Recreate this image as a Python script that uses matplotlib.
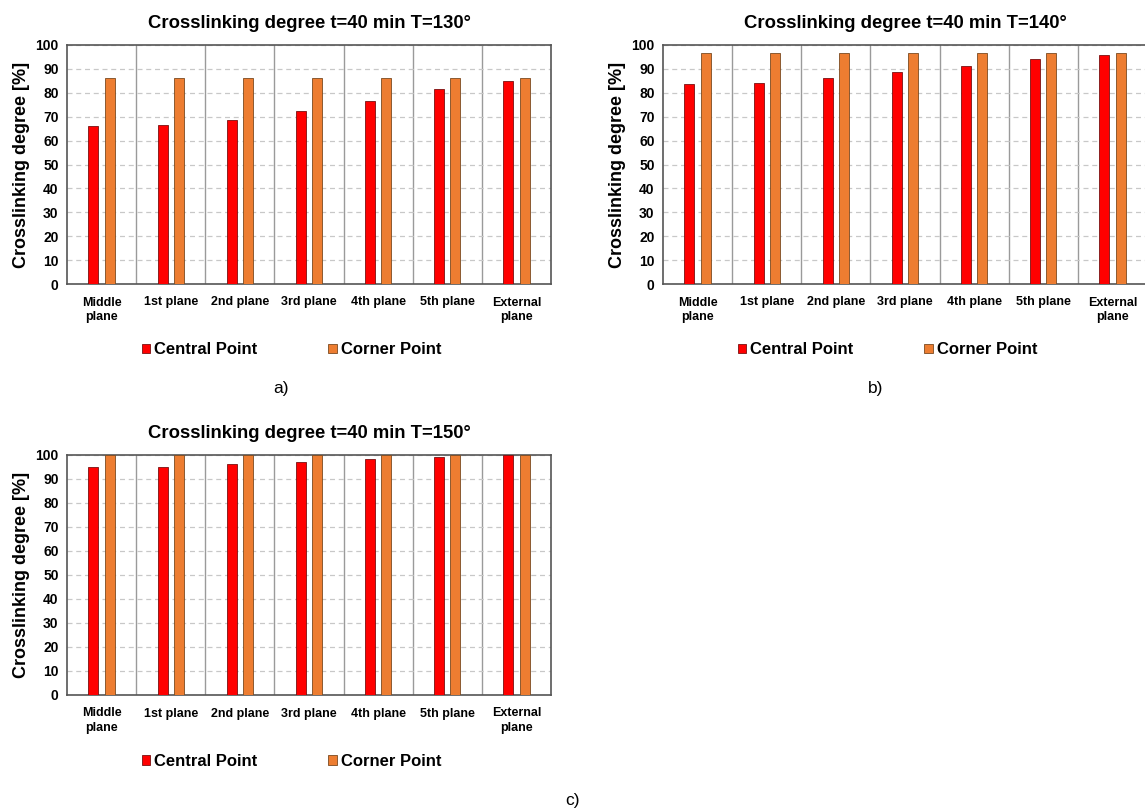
"""Crosslinking degree per plane, three cure temperatures."""

import matplotlib

matplotlib.use("Agg")
from matplotlib import pyplot as plt
from matplotlib.patches import Patch
import numpy as np

plt.rcParams["font.family"] = ["Liberation Sans", "DejaVu Sans"]

planes = [
    "Middle\nplane",
    "1st plane",
    "2nd plane",
    "3rd plane",
    "4th plane",
    "5th plane",
    "External\nplane",
]
temps = ["130°", "140°", "150°"]
central_130 = [66.0, 66.5, 68.7, 72.2, 76.7, 81.5, 84.8]
corner_130 = [86.0, 86.0, 86.0, 86.0, 86.0, 86.3, 86.3]
central_140 = [83.5, 84.0, 86.0, 88.8, 91.3, 94.2, 95.8]
corner_140 = [96.8, 96.8, 96.8, 96.8, 96.8, 96.8, 96.8]
central_150 = [95.0, 95.2, 96.1, 97.2, 98.3, 99.3, 99.8]
corner_150 = [100.0, 100.0, 100.0, 100.0, 100.0, 100.0, 100.0]
panel_tags = ["a)", "b)", "c)"]

RED = "#FF0000"
ORANGE = "#ED7D31"
W, H = 1145, 809

fig = plt.figure(figsize=(W / 100, H / 100), dpi=100)


def px_axes(left, top, right, bottom):
    return fig.add_axes(
        [left / W, 1 - bottom / H, (right - left) / W, (bottom - top) / H]
    )


def draw_panel(ax, central, corner, temp):
    x = np.arange(len(planes))
    width = 0.145
    ax.bar(x - 0.117, central, width, color=RED, edgecolor="#7a1010",
           linewidth=0.6, zorder=3)
    ax.bar(x + 0.117, corner, width, color=ORANGE, edgecolor="#7a4a20",
           linewidth=0.6, zorder=3)
    ax.set_xlim(-0.5, len(planes) - 0.5)
    ax.set_ylim(0, 100)
    ax.set_yticks(range(0, 101, 10))
    ax.set_xticks(x)
    ax.set_xticklabels(planes, fontsize=9, fontweight="bold",
                       linespacing=1.3)
    ax.tick_params(axis="x", length=0, pad=9)
    ax.tick_params(axis="y", length=0, labelsize=10, pad=6)
    for lab in ax.get_yticklabels():
        lab.set_fontweight("bold")
    ax.yaxis.grid(True, linestyle=(0, (4, 3)), color="#c8c8c8",
                  linewidth=0.9, zorder=0)
    for b in np.arange(0.5, len(planes) - 0.5):
        ax.axvline(b, color="#9a9a9a", linewidth=1.0, zorder=1)
    for side in ax.spines.values():
        side.set_color("#555555")
        side.set_linewidth(1.2)
    ax.set_ylabel("Crosslinking degree [%]", fontsize=13, fontweight="bold",
                  labelpad=4)
    ax.set_title(f"Crosslinking degree t=40 min T={temp}", fontsize=13.3,
                 fontweight="bold", pad=12)
    handles = [
        Patch(facecolor=RED, edgecolor="#7a1010", linewidth=0.6),
        Patch(facecolor=ORANGE, edgecolor="#7a4a20", linewidth=0.6),
    ]
    leg = ax.legend(
        handles,
        ["Central Point", "Corner Point"],
        loc="center",
        bbox_to_anchor=(0.464, -0.276),
        ncol=2,
        frameon=False,
        borderpad=0,
        handlelength=0.5,
        handleheight=0.5,
        handletextpad=0.24,
        columnspacing=4.26,
        prop={"size": 12, "weight": "bold"},
    )
    return leg


ax_a = px_axes(67, 45, 551, 284)
ax_b = px_axes(663, 45, 1147, 284)
ax_c = px_axes(67, 455, 551, 695)

draw_panel(ax_a, central_130, corner_130, temps[0])
draw_panel(ax_b, central_140, corner_140, temps[1])
draw_panel(ax_c, central_150, corner_150, temps[2])

fig.text(281 / W, 1 - 388 / H, panel_tags[0], fontsize=12.5,
         ha="center", va="center")
fig.text(876 / W, 1 - 388 / H, panel_tags[1], fontsize=12.5,
         ha="center", va="center")
fig.text(572 / W, 1 - 800 / H, panel_tags[2], fontsize=12.5,
         ha="center", va="center")

fig.savefig("out.png", dpi=100, facecolor="white")
